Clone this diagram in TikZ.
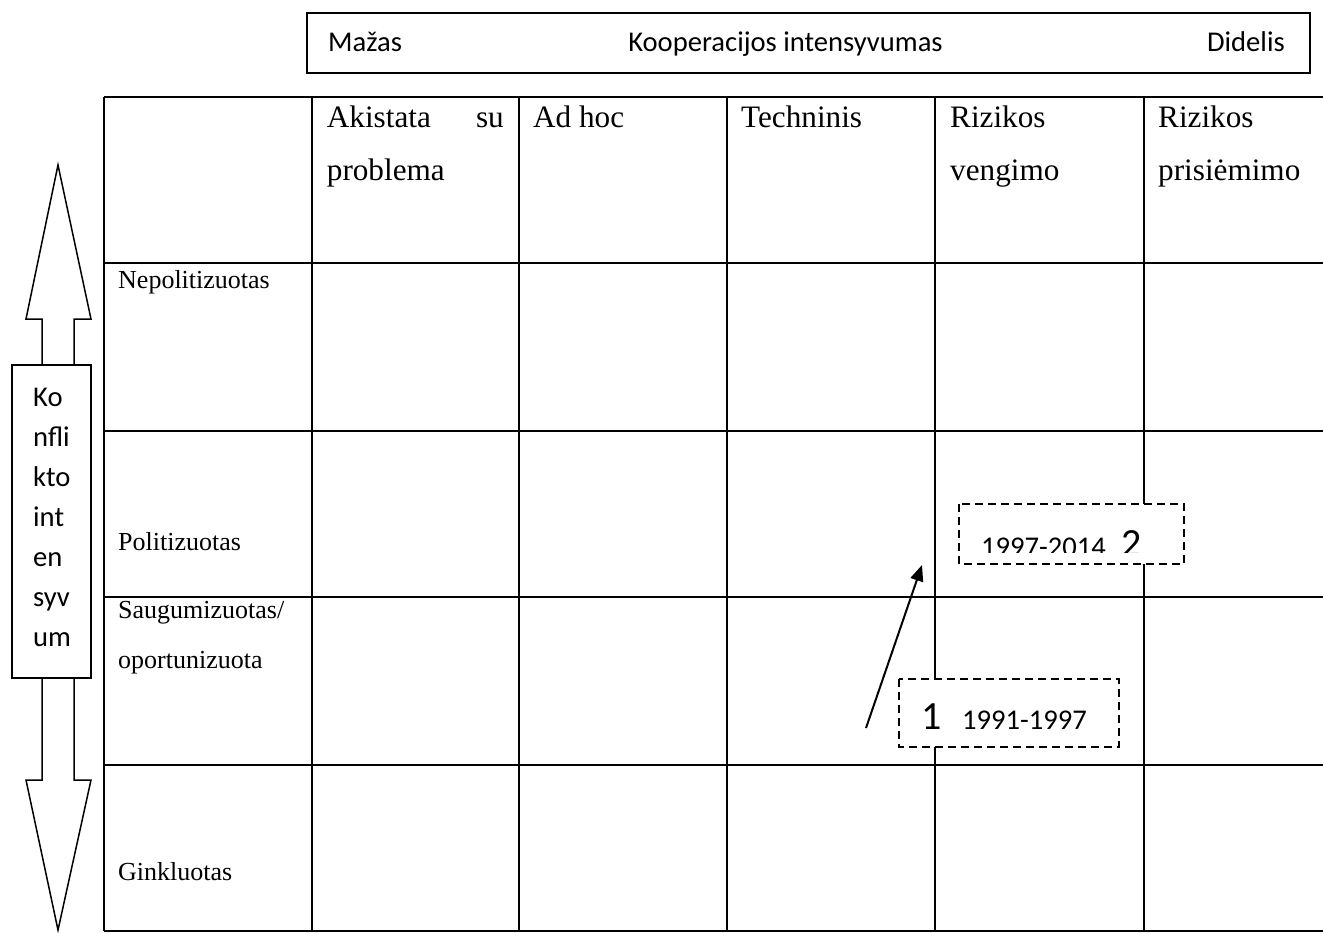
\documentclass[tikz,border=0pt]{standalone}
\usepackage{fontspec}
\setmainfont{Liberation Serif}
\newfontfamily\calfont{Carlito}
\usetikzlibrary{arrows.meta}
\begin{document}
\begin{tikzpicture}[x=1pt,y=-1pt,
  gridline/.style={line width=2pt},
  lbl/.style={anchor=base west, inner sep=0pt, font=\fontsize{26}{30}\selectfont},
  hdr/.style={anchor=base west, inner sep=0pt, font=\fontsize{31.2}{36}\selectfont},
  cal/.style={anchor=base west, inner sep=0pt, font=\calfont\fontsize{28.6}{34}\selectfont},
  big/.style={anchor=base west, inner sep=0pt, font=\calfont\fontsize{40}{44}\selectfont},
  dbox/.style={draw, dash pattern=on 8pt off 5pt, line width=1.8pt, fill=white},
  outl/.style={draw, line width=1.5pt, line join=miter},
]
\useasboundingbox (0,0) rectangle (1323,932);
\clip (0,0) rectangle (1323,932);

% top box
\draw[line width=2pt] (307,12.7) rectangle (1310,72.7);
\node[cal] (mazas) at (328,51.7) {Mažas};
\node[cal, anchor=base] (koop) at (785.5,51.7) {Kooperacijos intensyvumas};
\node[cal, anchor=base east] (didelis) at (1285,51.7) {Didelis};

% grid
\foreach \yy in {97,263,431,597,765,931}
  \draw[gridline] (104,\yy) -- (1330,\yy);
\foreach \xx in {104,312,519,727,935,1144}
  \draw[gridline] (\xx,97) -- (\xx,931);

% column headers
\node[hdr] (h1a) at (326.7,127) {Akistata};
\node[hdr, anchor=base east] (h1b) at (504,127) {su};
\node[hdr] (h1c) at (326.7,180) {problema};
\node[hdr] (h2) at (533,127) {Ad hoc};
\node[hdr] (h3) at (741,127) {Techninis};
\node[hdr] (h4a) at (950,127) {Rizikos};
\node[hdr] (h4b) at (950,180) {vengimo};
\node[hdr] (h5a) at (1158,127) {Rizikos};
\node[hdr] (h5b) at (1158,180) {prisiėmimo};

% row labels
\node[lbl] (r1) at (118,288) {Nepolitizuotas};
\node[lbl] (r2) at (118,550) {Politizuotas};
\node[lbl] (r3a) at (118,618) {Saugumizuotas/};
\node[lbl] (r3b) at (118,668) {oportunizuota};
\node[lbl] (r4) at (118,880) {Ginkluotas};

% left double arrow
\draw[outl] (42,365) -- (42,319) -- (26,319) -- (58,165) -- (91,319) -- (74,319) -- (74,365);
\draw[outl] (42,678) -- (42,780) -- (26,780) -- (58,930) -- (91,780) -- (74,780) -- (74,678);
\draw[outl] (12,365) rectangle (91,678);
\node[cal] (k1) at (33,406) {Ko};
\node[cal] (k2) at (33,446) {nfli};
\node[cal] (k3) at (33,486) {kto};
\node[cal] (k4) at (33,526) {int};
\node[cal] (k5) at (33,566) {en};
\node[cal] (k6) at (33,606) {syv};
\node[cal] (k7) at (33,646) {um};

% dashed boxes
\draw[dbox] (959,504) rectangle (1184,564);
\begin{scope}
  \clip (959,504) rectangle (1184,552.5);
  \node[cal] (p2) at (981,556) {1997-2014};
  \node[big] (n2) at (1121,556) {2};
\end{scope}
\draw[dbox] (899,679) rectangle (1119,747);
\node[big] (n1) at (921,729) {1};
\node[cal] (p1) at (962,729) {1991-1997};

% arrow
\coordinate (a1) at (866,728);
\coordinate (a2) at (922,565);
\draw[line width=2pt, -{Triangle[length=16pt,width=13pt]}] (a1) -- (a2);
\end{tikzpicture}
\end{document}
